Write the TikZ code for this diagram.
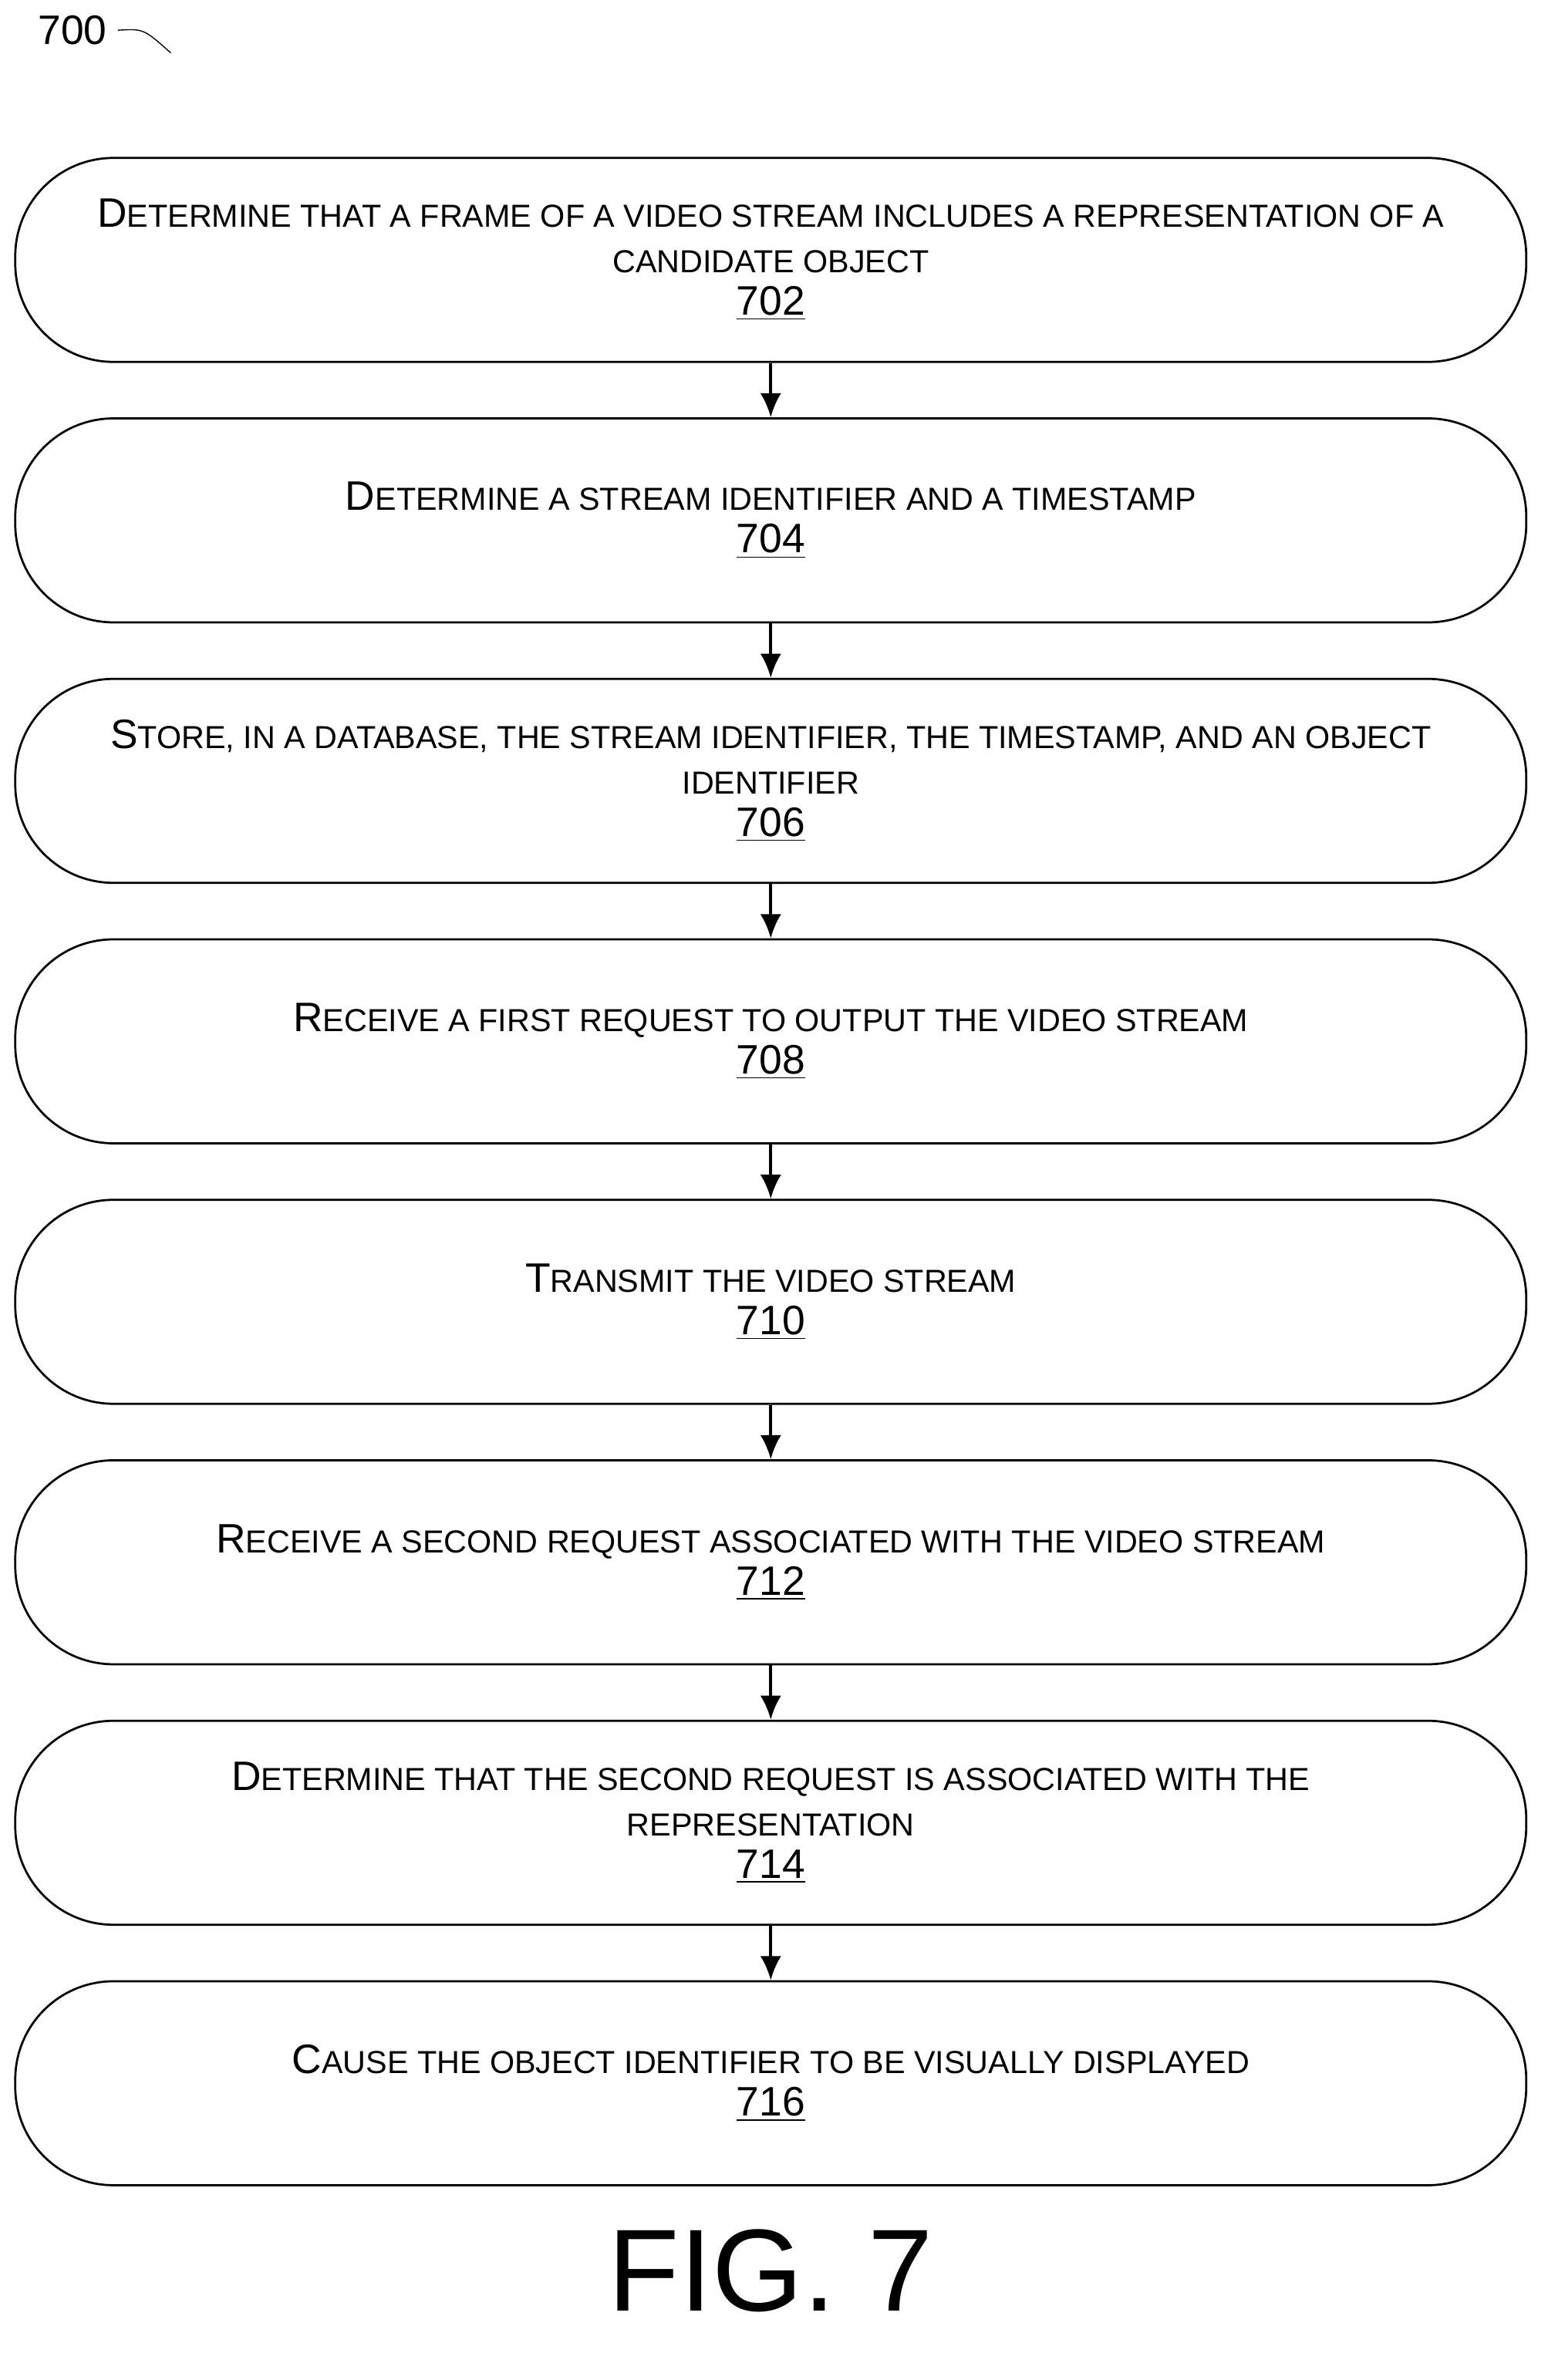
\documentclass[tikz,border=0pt]{standalone}
\usepackage{fontspec}
\setmainfont{Liberation Sans}
\usetikzlibrary{positioning, arrows.meta}
\newcommand\bigc[1]{{\fontsize{15.5}{18}\selectfont #1}}
\tikzset{
	stepnode/.style={rectangle, rounded corners=1.3cm, draw=black, thick, minimum width=20cm, minimum height=2.7cm, align=center, font=\fontsize{12}{17}\selectfont},
	steparrow/.style={-{Latex[length=3.2mm,width=2.8mm]}, very thick}
}
\newcommand\num[1]{\\[-1pt]\bigc{\underline{#1}}}

\begin{document}
\begin{tikzpicture}[x=0.02cm,y=0.02cm]
		\useasboundingbox (0,0) rectangle (1024,-1575);
		\node at (48,-20) (fig) {\bigc{700}};
		\draw (78,-20) .. controls (95,-19) .. (113,-35);
		
		\node[stepnode] at (510,-172) (s702) {\bigc{D}ETERMINE THAT A FRAME OF A VIDEO STREAM INCLUDES A REPRESENTATION OF A\\CANDIDATE OBJECT\num{702}};
		\node[stepnode, below=0.72cm of s702] (s704) {\bigc{D}ETERMINE A STREAM IDENTIFIER AND A TIMESTAMP\num{704}};
		\node[stepnode, below=0.72cm of s704] (s706) {\bigc{S}TORE, IN A DATABASE, THE STREAM IDENTIFIER, THE TIMESTAMP, AND AN OBJECT\\IDENTIFIER\num{706}};
		\node[stepnode, below=0.72cm of s706] (s708) {\bigc{R}ECEIVE A FIRST REQUEST TO OUTPUT THE VIDEO STREAM\num{708}};
		\node[stepnode, below=0.72cm of s708] (s710) {\bigc{T}RANSMIT THE VIDEO STREAM\num{710}};
		\node[stepnode, below=0.72cm of s710] (s712) {\bigc{R}ECEIVE A SECOND REQUEST ASSOCIATED WITH THE VIDEO STREAM\num{712}};
		\node[stepnode, below=0.72cm of s712] (s714) {\bigc{D}ETERMINE THAT THE SECOND REQUEST IS ASSOCIATED WITH THE\\REPRESENTATION\num{714}};
		\node[stepnode, below=0.72cm of s714] (s716) {\bigc{C}AUSE THE OBJECT IDENTIFIER TO BE VISUALLY DISPLAYED\num{716}};
		\node[below=0.45cm of s716, font=\fontsize{44}{46}\selectfont] (cap) {FIG. 7};
		
		%Arrows
		\foreach \a/\b in {s702/s704, s704/s706, s706/s708, s708/s710, s710/s712, s712/s714, s714/s716}
			\draw[steparrow] (\a.south) -- (\b.north);
	\end{tikzpicture}
\end{document}
